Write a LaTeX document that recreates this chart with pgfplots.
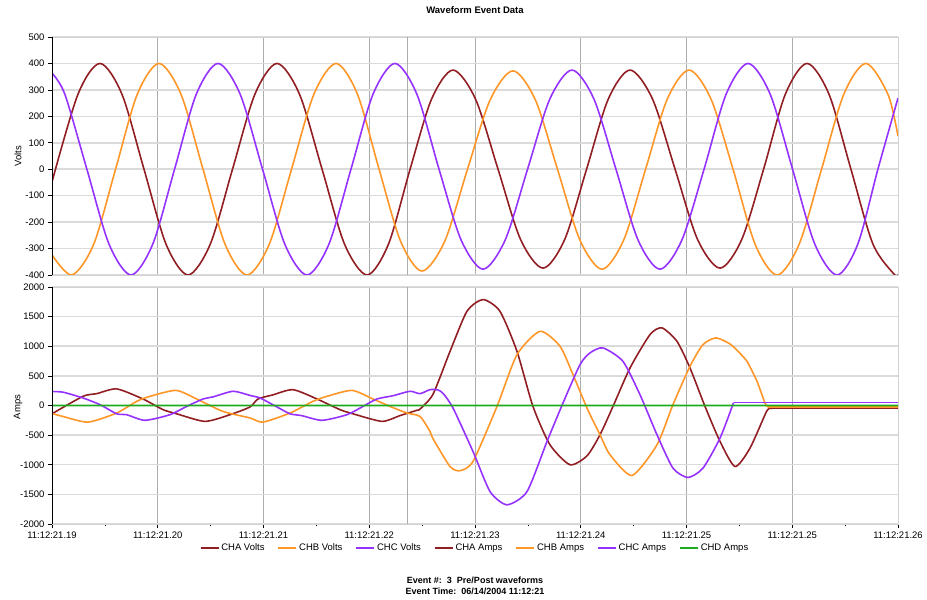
\documentclass[border=0pt]{standalone}
\usepackage{fontspec}
\setmainfont{Liberation Sans}
\usepackage{pgfplots}
\pgfplotsset{compat=1.18}
\definecolor{cha}{RGB}{145,30,35}
\definecolor{chb}{RGB}{255,150,40}
\definecolor{chc}{RGB}{150,50,255}
\definecolor{chd}{RGB}{30,170,30}
\pgfplotsset{common/.style={
  scale only axis, xmin=0, xmax=80, xtick={0,10,...,80},
  grid=major,
  x grid style={color=gray!65, line width=0.7pt},
  y grid style={color=gray!28, line width=1.5pt},
  axis line style={draw=gray!35, line width=0.8pt},
  tick align=outside, xtick pos=bottom, ytick pos=left,
  tick style={black, line width=0.6pt},
  major tick length=4pt, minor tick length=2.5pt,
  tick label style={font=\fontsize{9.5}{11}\selectfont},
  /pgf/number format/assume math mode=true,
  every axis plot/.append style={no marks, line width=1.6pt, line join=round},
  extra x ticks={33.57}, extra x tick labels={},
  extra x tick style={grid=major, major tick length=0pt},
}}
\begin{document}
\begin{tikzpicture}[x=1pt,y=1pt]
\useasboundingbox (0,0) rectangle (927,600);
% ---------------- Volts ----------------
\begin{axis}[common, at={(52pt,325pt)}, anchor=south west, width=846pt, height=238pt,
  ymin=-400, ymax=500, ytick={-400,-300,...,500},
  yticklabels={-400,-300,-200,-100,0,100,200,300,400,500},
  xticklabels={}, xtick style={draw=none}]
\addplot[color=cha, smooth] coordinates {(0,-48) (2.45,283) (4.54,400) (6.62,283) (8.70,0) (10.78,-283) (12.86,-400) (14.97,-283) (17.07,0) (19.18,283) (21.28,400) (23.41,283) (25.54,0) (27.66,-283) (29.79,-400) (31.82,-283) (33.86,0) (35.89,265) (37.92,375) (40.05,265) (42.18,0) (44.30,-265) (46.43,-374) (48.49,-265) (50.55,0) (52.60,265) (54.66,375) (56.79,265) (58.92,0) (61.04,-265) (63.17,-374) (65.23,-265) (67.29,0) (69.34,283) (71.40,400) (73.48,283) (75.55,0) (77.63,-283) (79.70,-400) (80,-398)};
\addplot[color=chb, smooth] coordinates {(0,-324) (1.89,-400) (3.95,-283) (6.01,0) (8.06,283) (10.12,400) (12.20,283) (14.28,0) (16.36,-283) (18.44,-400) (20.55,-283) (22.65,0) (24.76,283) (26.86,400) (28.89,283) (30.93,0) (32.96,-272) (34.99,-385) (37.14,-272) (39.29,0) (41.44,263) (43.59,372) (45.70,263) (47.80,0) (49.91,-267) (52.01,-378) (54.07,-267) (56.13,0) (58.18,265) (60.24,375) (62.32,265) (64.40,0) (66.48,-283) (68.56,-400) (70.66,-283) (72.77,0) (74.87,283) (76.97,400) (79.05,283) (80,125)};
\addplot[color=chc, smooth] coordinates {(0,363) (1.22,283) (3.30,0) (5.39,-283) (7.47,-400) (9.53,-283) (11.59,0) (13.64,283) (15.70,400) (17.80,283) (19.91,0) (22.01,-283) (24.11,-400) (26.19,-283) (28.27,0) (30.35,283) (32.43,400) (34.51,283) (36.60,0) (38.68,-267) (40.76,-378) (42.86,-267) (44.97,0) (47.07,265) (49.17,375) (51.25,265) (53.33,0) (55.41,-267) (57.49,-378) (59.57,-267) (61.66,0) (63.74,283) (65.82,400) (67.92,283) (70.03,0) (72.13,-283) (74.23,-400) (76.2,-283) (78.1,0) (80,269)};
\draw[black, line width=1.2pt] (rel axis cs:0,0) -- (rel axis cs:0,1);
\end{axis}
% ---------------- Amps ----------------
\begin{axis}[common, at={(52pt,76pt)}, anchor=south west, width=846pt, height=237pt,
  ymin=-2000, ymax=2000, ytick={-2000,-1500,...,2000},
  yticklabels={-2000,-1500,-1000,-500,0,500,1000,1500,2000},
  xticklabels={11:12:21.19,11:12:21.20,11:12:21.21,11:12:21.22,11:12:21.23,11:12:21.24,11:12:21.25,11:12:21.25,11:12:21.26},
  minor x tick num=1,
  x axis line style={draw=black, line width=1.2pt},
  legend style={at={(0.5,-0.101)}, anchor=center, draw=none, fill=none,
    font=\fontsize{9.5}{11}\selectfont, inner sep=0pt,
    /tikz/every even column/.append style={column sep=11pt}},
  legend columns=7,
  legend image code/.code={\draw[#1, line width=1.6pt] (0pt,0pt) -- (18pt,0pt);}]
\addlegendimage{color=cha}\addlegendentry{CHA Volts}
\addlegendimage{color=chb}\addlegendentry{CHB Volts}
\addlegendimage{color=chc}\addlegendentry{CHC Volts}
\addplot[color=cha, smooth, tension=0.4] coordinates {(0,-140) (2.93,155) (4.23,200) (6.12,280) (8.60,110) (10.50,-70) (11.79,-140) (14.47,-268) (16.83,-155) (18.72,-25) (19.48,110) (20.90,180) (22.79,267) (25.06,110) (27.23,-70) (28.46,-140) (31.21,-268) (32.91,-170) (34.52,-80) (34.80,-60) (36.03,190) (37.64,914) (39.24,1590) (40.76,1788) (42.36,1590) (43.97,914) (45.48,-15) (47.09,-663) (48.98,-1000) (50.59,-850) (51.82,-494) (53.05,-15) (54.66,634) (56.55,1197) (57.68,1310) (59.10,1083) (60.33,634) (61.75,-15) (63.17,-607) (64.59,-1030) (66.01,-718) (67.61,-88) (68.09,-54)};
\addlegendentry{CHA Amps}
\addplot[color=chb, smooth, tension=0.4] coordinates {(0,-135) (1.04,-185) (3.40,-280) (6.12,-127) (8.01,70) (9.27,155) (11.73,255) (13.68,110) (16.17,-100) (18.72,-210) (19.95,-280) (22.51,-127) (24.68,70) (26.00,155) (28.37,255) (30.35,110) (31.96,-15) (33.57,-127) (34.80,-185) (35.74,-437) (36.03,-560) (37.64,-1030) (38.58,-1100) (39.81,-945) (42.08,-15) (43.97,858) (46.15,1252) (48.04,999) (49.27,520) (50.59,-42) (51.82,-494) (52.77,-831) (54.85,-1181) (57.21,-663) (58.72,14) (60.33,661) (61.56,1028) (62.79,1141) (64.11,1039) (64.87,914) (65.72,745) (66.67,407) (67.42,42) (67.71,-25)};
\addlegendentry{CHB Amps}
\addplot[color=chc, smooth, tension=0.4] coordinates {(0,235) (1.04,225) (2.93,127) (4.54,14) (6.12,-140) (7.06,-155) (8.79,-250) (11.16,-155) (12.74,-15) (14.28,110) (15.22,145) (17.12,240) (18.72,170) (19.67,127) (21.28,-25) (22.51,-140) (23.64,-172) (25.53,-250) (27.90,-155) (29.41,-15) (30.73,110) (32.25,165) (33.85,240) (34.80,200) (35.74,267) (36.50,262) (37.00,200) (37.92,-42) (39.81,-776) (41.42,-1452) (43.03,-1676) (44.92,-1452) (46.81,-607) (48.32,42) (49.93,690) (50.87,887) (52.10,972) (53.99,745) (55.60,183) (57.21,-494) (58.72,-1057) (60.14,-1215) (61.56,-1057) (63.17,-550) (64.45,48)};
\addlegendentry{CHC Amps}
\addplot[color=cha, forget plot] coordinates {(68.09,-54) (80,-54)};
\addplot[color=chb, forget plot] coordinates {(67.71,-25) (80,-25)};
\addplot[color=chc, forget plot] coordinates {(64.45,48) (80,48)};
\addplot[color=chd, line width=1.8pt] coordinates {(0,1) (26.7,-1) (53.3,1) (80,0)};
\addlegendentry{CHD Amps}
\draw[black, line width=1.2pt] (rel axis cs:0,0) -- (rel axis cs:0,1);
\end{axis}
% ---------------- Texts ----------------
\node[font=\bfseries\fontsize{9.5}{11}\selectfont] at (475,590) {Waveform Event Data};
\node[rotate=90, font=\fontsize{9.5}{11}\selectfont] at (18,444) {Volts};
\node[rotate=90, font=\fontsize{9.5}{11}\selectfont] at (18,193) {Amps};
\node[font=\bfseries\fontsize{9}{10}\selectfont] at (475,20) {Event \#:\ \ 3\ \ Pre/Post waveforms};
\node[font=\bfseries\fontsize{9}{10}\selectfont] at (475,9) {Event Time:\ \ 06/14/2004 11:12:21};
\end{tikzpicture}
\end{document}
